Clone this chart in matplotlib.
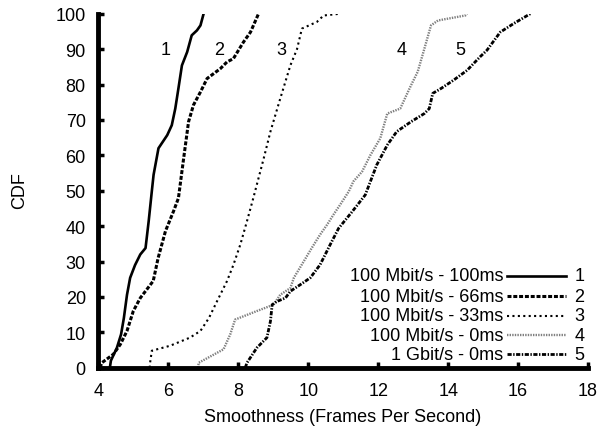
import matplotlib
matplotlib.use("Agg")
import matplotlib.pyplot as plt

plt.rcParams['font.family'] = ['Liberation Sans', 'DejaVu Sans']

x1 = [4.33, 4.36, 4.53, 4.65, 4.73, 4.82, 4.91, 5.05, 5.20, 5.35, 5.44, 5.53, 5.58, 5.72, 5.97, 6.10, 6.20, 6.29, 6.39, 6.54, 6.67, 6.82, 6.92, 7.01]
y1 = [0, 2, 5.6, 9.4, 14, 20.6, 25.4, 29, 32, 33.8, 41.4, 49.9, 54.5, 62, 65.7, 68.5, 73.2, 78.9, 85.4, 89.2, 93.9, 95.3, 96.7, 100]

x2 = [4.05, 4.10, 4.43, 4.63, 4.82, 5.00, 5.20, 5.57, 5.71, 5.92, 6.15, 6.29, 6.44, 6.58, 6.72, 6.92, 7.11, 7.49, 7.68, 7.86, 8.15, 8.35, 8.58]
y2 = [0, 1.4, 3.8, 6.6, 10.4, 16, 19.7, 24.5, 31, 38.6, 44.2, 47.9, 59.2, 69.5, 74.2, 77.9, 81.7, 84.5, 86.4, 87.3, 92, 94.8, 100]

x3 = [5.47, 5.48, 5.53, 6.05, 6.62, 6.92, 7.16, 7.39, 7.68, 7.86, 8.06, 8.25, 8.43, 8.73, 8.92, 9.20, 9.49, 9.68, 9.82, 10.25, 10.44, 10.91]
y3 = [0, 1.4, 4.8, 6.2, 8.5, 10.4, 14, 18.7, 24.5, 29, 34.8, 41.4, 47.9, 59.2, 66.7, 76, 85.4, 90, 95.8, 97.7, 99.5, 100]

x4 = [6.85, 6.87, 7.58, 7.77, 7.91, 8.53, 9.01, 9.20, 9.49, 9.59, 9.87, 10.10, 10.34, 10.54, 10.72, 10.91, 11.16, 11.29, 11.54, 11.78, 12.06, 12.26, 12.63, 12.94, 13.13, 13.32, 13.51, 13.71, 14.49, 14.54]
y4 = [0, 1.4, 5.2, 9.4, 13.6, 16, 17.8, 20.6, 22.5, 25.4, 30, 33.8, 37.6, 40.4, 43.2, 46, 49.8, 52.6, 55.4, 60.1, 64.8, 71.8, 73.2, 79.8, 83.6, 90.1, 96.7, 98.1, 99.5, 100]

x5 = [8.2, 8.25, 8.53, 8.82, 8.92, 8.97, 9.10, 9.35, 9.49, 9.78, 10.06, 10.34, 10.63, 10.87, 11.25, 11.63, 11.96, 12.26, 12.53, 12.94, 13.32, 13.46, 13.56, 13.80, 14.15, 14.54, 14.91, 15.11, 15.49, 15.87, 16.35]
y5 = [0, 1.4, 5.6, 8.5, 13.1, 17.8, 18.7, 19.7, 21.6, 23.5, 25.4, 29.1, 34.8, 39.4, 44, 48.8, 57.3, 62.9, 66.7, 69.5, 71.8, 73.2, 77.5, 78.9, 81.2, 84, 87.8, 89.7, 94.8, 97.2, 100]

series_labels = ["100 Mbit/s - 100ms", "100 Mbit/s - 66ms", "100 Mbit/s - 33ms",
                 "100 Mbit/s - 0ms", "1 Gbit/s - 0ms"]
series_ids = ["1", "2", "3", "4", "5"]
curve_label_x = [5.93, 7.45, 9.23, 12.67, 14.36]
curve_label_y = [90, 90, 90, 90, 90]

xticks = [4, 6, 8, 10, 12, 14, 16, 18]
yticks = [0, 10, 20, 30, 40, 50, 60, 70, 80, 90, 100]

FS = 13

styles = [
    dict(color='black', lw=1.9, linestyle='-'),
    dict(color='black', lw=2.2, linestyle=(0, (1.3, 0.6))),
    dict(color='black', lw=1.5, linestyle=(0, (1, 1.6))),
    dict(color='#808080', lw=1.7, linestyle=(0, (0.6, 0.5))),
    dict(color='black', lw=2.0, linestyle=(0, (1.5, 0.55, 0.5, 0.55))),
]

fig = plt.figure(figsize=(6.05, 4.27), dpi=100)
ax = fig.add_axes([0.1625, 0.1365, 0.8095, 0.829])

xs = [x1, x2, x3, x4, x5]
ys = [y1, y2, y3, y4, y5]
for x, y, st in zip(xs, ys, styles):
    ax.plot(x, y, solid_joinstyle='round', **st)

for lx, ly, t in zip(curve_label_x, curve_label_y, series_ids):
    ax.text(lx, ly, t, fontsize=FS, ha='center', va='center')

ax.set_xlim(4, 18)
ax.set_ylim(0, 100)
ax.set_xticks(xticks)
ax.set_yticks(yticks)
for s in ['top', 'right']:
    ax.spines[s].set_visible(False)
for s in ['left', 'bottom']:
    ax.spines[s].set_linewidth(3.5)
ax.tick_params(direction='in', length=4, width=2.5, labelsize=FS)
ax.tick_params(axis='x', pad=10)
ax.tick_params(axis='y', pad=9)

fig.text(343 / 605, 1 - 421.7 / 427, "Smoothness (Frames Per Second)",
         fontsize=FS, ha='center', va='baseline')
fig.text(19.5 / 605, 1 - 191 / 427, "CDF", fontsize=FS, rotation=90,
         ha='center', va='center')

# gnuplot-style key
row_y = [0.260, 0.2017, 0.147, 0.0924, 0.0387]
for i, (lab, sid, st) in enumerate(zip(series_labels, series_ids, styles)):
    yy = row_y[i]
    ax.text(0.8264, yy, lab, transform=ax.transAxes, fontsize=FS, ha='right', va='center')
    ax.plot([0.834, 0.955], [yy, yy], transform=ax.transAxes, clip_on=False, **st)
    ax.text(0.9826, yy, sid, transform=ax.transAxes, fontsize=FS, ha='center', va='center')

fig.savefig("out.png", dpi=100)
